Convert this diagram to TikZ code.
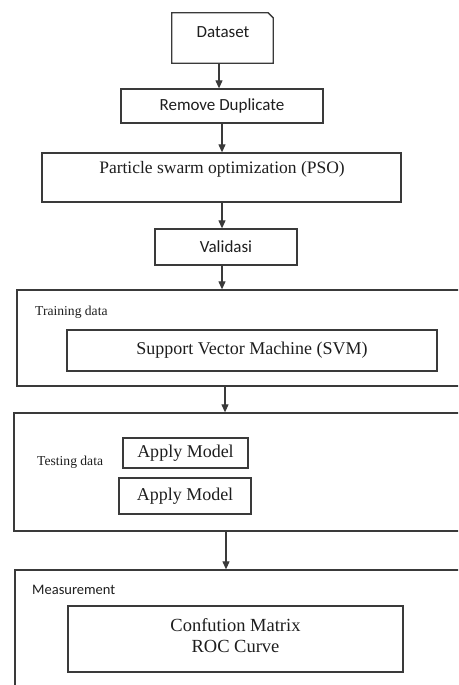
\documentclass[tikz,border=0pt]{standalone}
\usepackage{fontspec}
\setmainfont{Liberation Serif}
\newfontfamily\calib{Carlito}
\usetikzlibrary{arrows.meta}
\definecolor{ln}{HTML}{3A3A3A}
\definecolor{tx}{HTML}{1E1E1E}
\tikzset{
  box/.style={draw=ln, line width=1.3pt, inner sep=0pt, rectangle},
  sanstext/.style={font=\calib\fontsize{17}{20}\selectfont, text=tx, inner sep=0pt},
  sertext/.style={font=\fontsize{18}{21}\selectfont, text=tx, inner sep=0pt, align=center},
  smalllab/.style={font=\fontsize{13.6}{16}\selectfont, text=tx, inner sep=0pt, anchor=west},
  conn/.style={draw=ln, line width=1.1pt, -{Triangle[length=8pt,width=7pt]}}
}
\begin{document}
\begin{tikzpicture}[x=1pt,y=-1pt]
\useasboundingbox (0,0) rectangle (458,685);
\fill[white] (0,0) rectangle (458,685);
\clip (0,0) rectangle (458,685);
% Dataset (cut corner)
\node[inner sep=0pt, minimum width=101pt, minimum height=50pt] (ds) at (222.5,38) {};
\draw[ln, line width=1.3pt] (ds.south west) -- (ds.north west) -- ([xshift=-5pt]ds.north east) -- ([yshift=-5pt]ds.north east) -- (ds.south east) -- cycle;
\node[sanstext] (dst) at (223,32) {Dataset};
% Remove Duplicate
\node[box, sanstext, minimum width=202pt, minimum height=34pt] (rd) at (222,106) {Remove Duplicate};
% PSO
\node[box, minimum width=359pt, minimum height=49pt] (pso) at (221.5,177.5) {};
\node[sertext, font=\fontsize{17.5}{20}\selectfont] (psot) at (222,169) {Particle swarm optimization (PSO)};
% Validasi
\node[box, sanstext, minimum width=142pt, minimum height=36pt] (val) at (226,247) {Validasi};
% Training container
\node[box, minimum width=453pt, minimum height=96pt] (train) at (243.5,338) {};
\node[smalllab] (trl) at (35,312) {Training data};
\node[box, sertext, minimum width=370pt, minimum height=41pt] (svm) at (252,350.5) {Support Vector Machine (SVM)};
% Testing container
\node[box, minimum width=456pt, minimum height=118pt] (test) at (242,472) {};
\node[smalllab] (tel) at (37,462) {Testing data};
\node[box, sertext, minimum width=125pt, minimum height=30pt] (am1) at (185.5,453) {Apply Model};
\node[box, sertext, minimum width=132pt, minimum height=36pt] (am2) at (185,496) {Apply Model};
% Measurement container
\node[box, minimum width=455pt, minimum height=130pt] (meas) at (242.5,635) {};
\node[smalllab, font=\calib\fontsize{14.5}{17}\selectfont] (mel) at (32,590) {Measurement};
\node[box, minimum width=335pt, minimum height=66pt] (cm) at (235.5,639) {};
\node[sertext, font=\fontsize{18.5}{21}\selectfont] (cmt) at (235.5,635.5) {Confution Matrix\\ROC Curve};
% connectors
\draw[conn] ([xshift=-3.5pt]ds.south) -- ([xshift=-3.5pt]ds.south |- rd.north);
\draw[conn] (rd.south) -- (rd.south |- pso.north);
\draw[conn] ([xshift=0.5pt]pso.south) -- ([xshift=0.5pt]pso.south |- val.north);
\draw[conn] ([xshift=-4pt]val.south) -- ([xshift=-4pt]val.south |- train.north);
\draw[conn] ([xshift=-18.5pt]train.south) -- ([xshift=-18.5pt]train.south |- test.north);
\draw[conn] ([xshift=-16pt]test.south) -- ([xshift=-16pt]test.south |- meas.north);
\end{tikzpicture}
\end{document}
